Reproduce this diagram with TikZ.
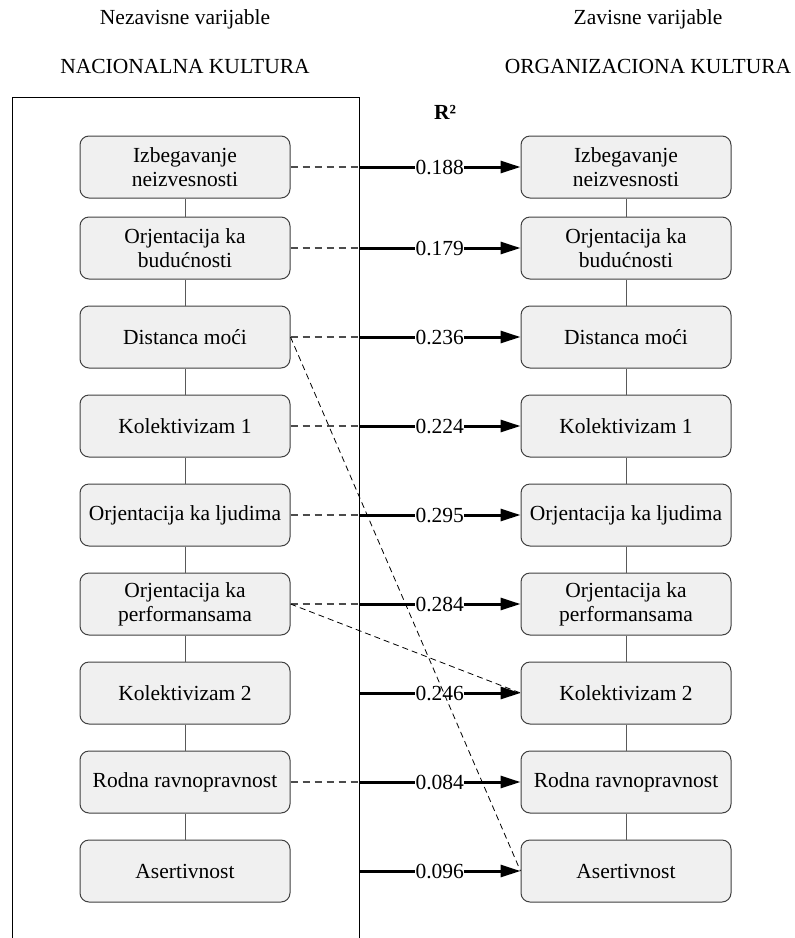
\documentclass[tikz,border=0pt]{standalone}
\usepackage{fontspec}
\setmainfont{Liberation Serif}
\usetikzlibrary{positioning,arrows.meta}

\tikzset{
  var/.style={draw=black!75, fill=black!6, line width=1pt, rounded corners=9pt,
    minimum width=210pt, minimum height=62pt, align=center},
  link/.style={draw=black!65, line width=0.8pt},
  frame/.style={draw=black, line width=1pt},
  dline/.style={draw=black!70, line width=1.2pt, dash pattern=on 7pt off 5pt},
  xline/.style={draw=black, line width=0.8pt, dash pattern=on 6pt off 4pt},
  rline/.style={draw=black, line width=3pt, -{Triangle[length=20pt, width=12pt]}},
  val/.style={fill=white, inner sep=0.5pt}
}

\begin{document}
\begin{tikzpicture}[x=1pt, y=-1pt, node distance=26pt, font=\fontsize{21.5}{24}\selectfont]
  \useasboundingbox (0,0) rectangle (795,938);
  % naslovi
  \node (hn) at (185,19) {Nezavisne varijable};
  \node (tn) at (185,66) {NACIONALNA KULTURA};
  \node (ho) at (648,19) {Zavisne varijable};
  \node (to) at (648,66) {ORGANIZACIONA KULTURA};
  \node (r2) at (445,112) {\bfseries R²};

  % okvir
  \coordinate (fb) at (12,938);
  \coordinate (ft) at (359,97);
  \coordinate (fe) at (359,938);
  \draw[frame] (fb) |- (ft) -- (fe);

  % nacionalna kultura
  \node[var] (n1) at (185,167) {Izbegavanje\\neizvesnosti};
  \node[var] (n2) [below=18pt of n1] {Orjentacija ka\\budućnosti};
  \node[var] (n3) [below=of n2] {Distanca moći};
  \node[var] (n4) [below=of n3] {Kolektivizam 1};
  \node[var] (n5) [below=of n4] {Orjentacija ka ljudima};
  \node[var] (n6) [below=of n5] {Orjentacija ka\\performansama};
  \node[var] (n7) [below=of n6] {Kolektivizam 2};
  \node[var] (n8) [below=of n7] {Rodna ravnopravnost};
  \node[var] (n9) [below=of n8] {Asertivnost};

  % organizaciona kultura
  \node[var] (o1) [right=230pt of n1] {Izbegavanje\\neizvesnosti};
  \node[var] (o2) [below=18pt of o1] {Orjentacija ka\\budućnosti};
  \node[var] (o3) [below=of o2] {Distanca moći};
  \node[var] (o4) [below=of o3] {Kolektivizam 1};
  \node[var] (o5) [below=of o4] {Orjentacija ka ljudima};
  \node[var] (o6) [below=of o5] {Orjentacija ka\\performansama};
  \node[var] (o7) [below=of o6] {Kolektivizam 2};
  \node[var] (o8) [below=of o7] {Rodna ravnopravnost};
  \node[var] (o9) [below=of o8] {Asertivnost};

  % veze u kolonama
  \draw[link] (n1) -- (n2);
  \draw[link] (n2) -- (n3);
  \draw[link] (n3) -- (n4);
  \draw[link] (n4) -- (n5);
  \draw[link] (n5) -- (n6);
  \draw[link] (n6) -- (n7);
  \draw[link] (n7) -- (n8);
  \draw[link] (n8) -- (n9);
  \draw[link] (o1) -- (o2);
  \draw[link] (o2) -- (o3);
  \draw[link] (o3) -- (o4);
  \draw[link] (o4) -- (o5);
  \draw[link] (o5) -- (o6);
  \draw[link] (o6) -- (o7);
  \draw[link] (o7) -- (o8);
  \draw[link] (o8) -- (o9);

  % tacke na okviru
  \coordinate (f1) at (ft |- n1);
  \coordinate (f2) at (ft |- n2);
  \coordinate (f3) at (ft |- n3);
  \coordinate (f4) at (ft |- n4);
  \coordinate (f5) at (ft |- n5);
  \coordinate (f6) at (ft |- n6);
  \coordinate (f7) at (ft |- n7);
  \coordinate (f8) at (ft |- n8);
  \coordinate (f9) at (ft |- n9);

  % R2 veze
  \draw[dline] (n1) -- (f1);
  \draw[dline] (n2) -- (f2);
  \draw[dline] (n3) -- (f3);
  \draw[dline] (n4) -- (f4);
  \draw[dline] (n5) -- (f5);
  \draw[dline] (n6) -- (f6);
  \draw[dline] (n8) -- (f8);
  \draw[rline] (f1) -- node[val] {0.188} (o1);
  \draw[rline] (f2) -- node[val] {0.179} (o2);
  \draw[rline] (f3) -- node[val] {0.236} (o3);
  \draw[rline] (f4) -- node[val] {0.224} (o4);
  \draw[rline] (f5) -- node[val] {0.295} (o5);
  \draw[rline] (f6) -- node[val] {0.284} (o6);
  \draw[rline] (f7) -- node[val] {0.246} (o7);
  \draw[rline] (f8) -- node[val] {0.084} (o8);
  \draw[rline] (f9) -- node[val] {0.096} (o9);

  % ukrstene veze
  \draw[xline] (n3.east) -- (o9.west);
  \draw[xline] (n6.east) -- (o7.west);
\end{tikzpicture}
\end{document}
